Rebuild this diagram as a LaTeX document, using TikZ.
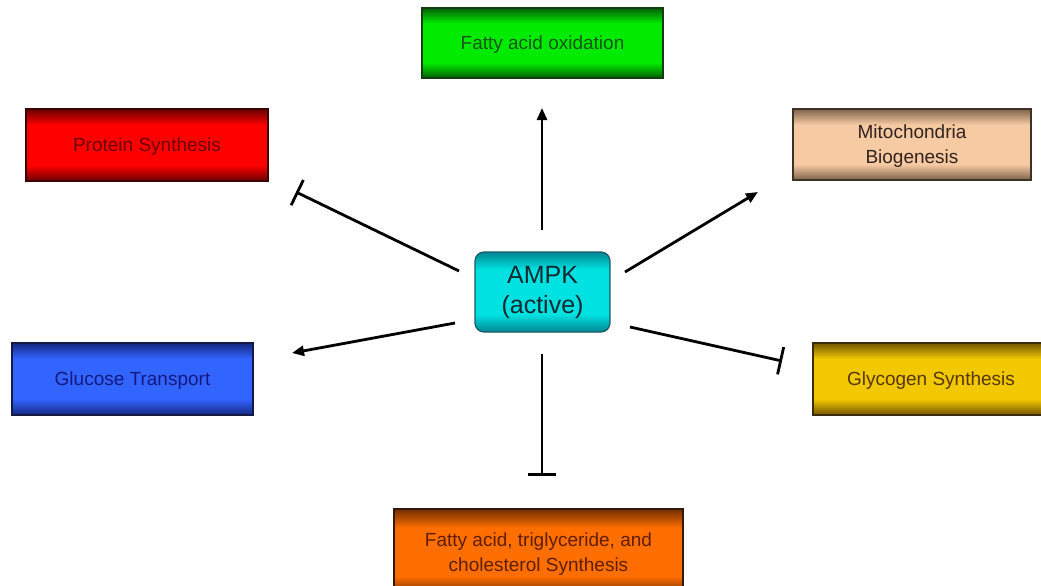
\documentclass[tikz,border=0pt]{standalone}
\usepackage{fontspec}
\setmainfont{Liberation Sans}
\usetikzlibrary{arrows.meta}

\definecolor{gmid}{RGB}{0,235,0}\definecolor{gedge}{RGB}{0,95,0}\definecolor{gtext}{RGB}{25,85,25}\definecolor{gline}{RGB}{20,60,20}
\definecolor{rmid}{RGB}{255,0,0}\definecolor{redge}{RGB}{105,0,0}\definecolor{rtext}{RGB}{110,0,0}\definecolor{rline}{RGB}{60,0,0}
\definecolor{tmid}{RGB}{246,202,162}\definecolor{tedge}{RGB}{125,98,75}\definecolor{ttext}{RGB}{50,35,30}\definecolor{tline}{RGB}{60,50,40}
\definecolor{ymid}{RGB}{242,200,0}\definecolor{yedge}{RGB}{115,85,0}\definecolor{ytext}{RGB}{85,55,10}\definecolor{yline}{RGB}{60,45,10}
\definecolor{bmid}{RGB}{50,100,255}\definecolor{bedge}{RGB}{20,40,130}\definecolor{btext}{RGB}{20,25,130}\definecolor{bline}{RGB}{20,25,70}
\definecolor{omid}{RGB}{255,110,0}\definecolor{oedge}{RGB}{115,45,0}\definecolor{otext}{RGB}{95,30,0}\definecolor{oline}{RGB}{50,25,10}
\definecolor{cmid}{RGB}{0,225,225}\definecolor{cedge}{RGB}{0,135,145}\definecolor{ctext}{RGB}{20,40,50}\definecolor{cline}{RGB}{30,90,100}

\newcommand\mkshade[3]{\pgfdeclareverticalshading{#1}{100bp}{color(0bp)=(#3); color(25bp)=(#3); color(36bp)=(#2); color(64bp)=(#2); color(75bp)=(#3); color(100bp)=(#3)}}
\mkshade{gshade}{gmid}{gedge}
\mkshade{rshade}{rmid}{redge}
\mkshade{tshade}{tmid}{tedge}
\mkshade{yshade}{ymid}{yedge}
\mkshade{bshade}{bmid}{bedge}
\mkshade{oshade}{omid}{oedge}
\mkshade{cshade}{cmid}{cedge}

\tikzset{
  basebox/.style={rectangle, inner sep=0pt, line width=1.2pt, align=center},
  box/.style={basebox, text depth=0pt, font=\fontsize{19}{25}\selectfont},
  ampkbox/.style={basebox, rounded corners=9pt, font=\fontsize{25}{30}\selectfont},
  act/.style={line width=2.8pt, -{Triangle[length=12pt,width=10pt]}},
  inh/.style={line width=2.8pt, -{Bar[width=28pt,line width=2.8pt]}}
}

\begin{document}
\begin{tikzpicture}[x=1pt,y=-1pt]
\clip (0,0) rectangle (1041,586);
\fill[white] (0,0) rectangle (1041,586);

\node[box, shading=gshade, draw=gline, text=gtext, minimum width=241pt, minimum height=70pt] (fao) at (542.5,43) {Fatty acid oxidation};
\node[box, shading=rshade, draw=rline, text=rtext, minimum width=242pt, minimum height=72pt] (prot) at (147,145) {Protein Synthesis};
\node[box, shading=tshade, draw=tline, text=ttext, minimum width=238pt, minimum height=71pt] (mito) at (912,144.5) {Mitochondria\\Biogenesis};
\node[box, shading=bshade, draw=bline, text=btext, minimum width=241pt, minimum height=72pt] (gluc) at (132.5,379) {Glucose Transport};
\node[box, shading=yshade, draw=yline, text=ytext, minimum width=236pt, minimum height=72pt] (glyc) at (931,379) {Glycogen Synthesis};
\node[box, shading=oshade, draw=oline, text=otext, minimum width=289pt, minimum height=86pt] (fsyn) at (538.5,552) {Fatty acid, triglyceride, and\\cholesterol Synthesis};
\node[ampkbox, shading=cshade, draw=cline, text=ctext, minimum width=135pt, minimum height=80pt] (ampk) at (542.5,292) {AMPK\\(active)};

\coordinate (upS) at (542,230);   \coordinate (upE) at (542,108);
\coordinate (miS) at (625,272);   \coordinate (miE) at (758,192);
\coordinate (glS) at (455,323);   \coordinate (glE) at (292,353);
\coordinate (prS) at (459,271);   \coordinate (prE) at (296,192);
\coordinate (gyS) at (630,327);   \coordinate (gyE) at (782,361);
\coordinate (dnS) at (542,354);   \coordinate (dnE) at (542,476);

\draw[act] (upS) -- (upE);
\draw[act] (miS) -- (miE);
\draw[act] (glS) -- (glE);
\draw[inh] (prS) -- (prE);
\draw[inh] (gyS) -- (gyE);
\draw[inh] (dnS) -- (dnE);
\end{tikzpicture}
\end{document}
